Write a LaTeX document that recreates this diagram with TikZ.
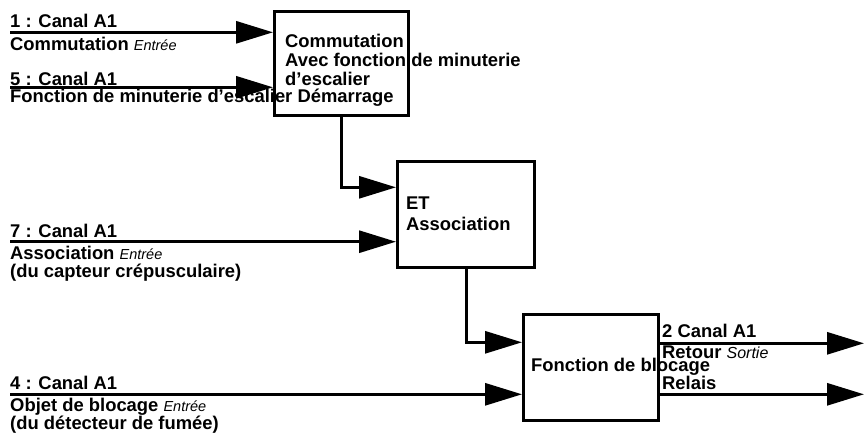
\documentclass[tikz,border=0pt]{standalone}
\usepackage{fontspec}
\setmainfont{Liberation Sans}
\usetikzlibrary{arrows.meta}
\newcommand{\sigfont}{\bfseries\fontsize{18.4}{21}\selectfont}
\newcommand{\klein}[2][14.5]{{\mdseries\itshape\fontsize{#1}{#1}\selectfont #2}}
\tikzset{
  blockbox/.style={draw, line width=3pt, inner sep=0pt, anchor=north west},
  sig/.style={line width=3pt, -{Triangle[length=37pt,width=22pt]}},
  lbl/.style={anchor=base west, inner sep=0pt, font=\sigfont},
}
\begin{document}
\begin{tikzpicture}[x=1pt,y=-1pt]
  \useasboundingbox (0,0) rectangle (865,432);
  % blocks
  \node[blockbox, minimum width=134pt, minimum height=104pt] (commut) at (273,10) {};
  \node[blockbox, minimum width=137pt, minimum height=106pt] (etbox) at (396,160) {};
  \node[blockbox, minimum width=135pt, minimum height=106pt] (blocage) at (522,313) {};
  % block texts
  \node[lbl] (c1) at (285,47) {Commutation};
  \node[lbl] (c2) at (285,66) {Avec fonction de minuterie};
  \node[lbl] (c3) at (285,85) {d’escalier};
  \node[lbl] (e1) at (406,209) {ET};
  \node[lbl] (e2) at (406,230) {Association};
  \node[lbl] (b1) at (531,371) {Fonction de blocage};
  % input labels
  \node[lbl] (in1a) at (10,27.5) {1 : Canal A1};
  \node[lbl] (in1b) at (10,50) {Commutation \klein{Entrée}};
  \node[lbl] (in5a) at (10,85) {5 : Canal A1};
  \node[lbl] (in5b) at (10,102) {Fonction de minuterie d’escalier Démarrage};
  \node[lbl] (in7a) at (10,237) {7 : Canal A1};
  \node[lbl] (in7b) at (10,259) {Association \klein{Entrée}};
  \node[lbl] (in7c) at (10,277) {(du capteur crépusculaire)};
  \node[lbl] (in4a) at (10,389.5) {4 : Canal A1};
  \node[lbl] (in4b) at (10,411) {Objet de blocage \klein{Entrée}};
  \node[lbl] (in4c) at (10,429) {(du détecteur de fumée)};
  % output labels
  \node[lbl] (out1a) at (662,337) {2 Canal A1};
  \node[lbl] (out1b) at (662,358) {Retour \klein[16]{Sortie}};
  \node[lbl] (out2a) at (662,389) {Relais};
  % signal ends
  \coordinate (in1) at (10,32.3);
  \coordinate (in5) at (10,87.3);
  \coordinate (in7) at (10,241.7);
  \coordinate (in4) at (10,394.3);
  \coordinate (k1) at (0,187.3);
  \coordinate (k2) at (0,342.3);
  \coordinate (out1) at (864,343.3);
  \coordinate (out2) at (864,394.3);
  % connectors
  \draw[sig] (in1) -- (in1 -| commut.west);
  \draw[sig] (in5) -- (in5 -| commut.west);
  \draw[sig] (in7) -- (in7 -| etbox.west);
  \draw[sig] (in4) -- (in4 -| blocage.west);
  \draw[sig] (commut.south) |- (k1 -| etbox.west);
  \draw[sig] (etbox.south) |- (k2 -| blocage.west);
  \draw[sig] (out1 -| blocage.east) -- (out1);
  \draw[sig] (out2 -| blocage.east) -- (out2);
\end{tikzpicture}
\end{document}
